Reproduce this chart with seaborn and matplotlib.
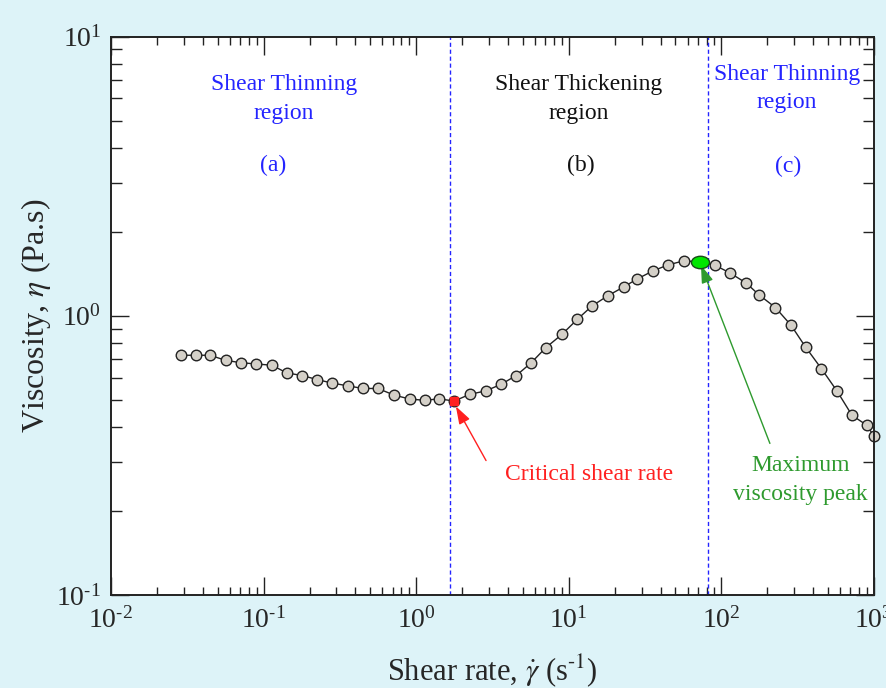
import matplotlib

matplotlib.use("Agg")
import matplotlib.pyplot as plt
import numpy as np
import pandas as pd
import seaborn as sns
from matplotlib.path import Path
from matplotlib.ticker import FuncFormatter

# shear rate (1/s) and viscosity (Pa.s)
shear_rate = [0.0286, 0.0361, 0.0445, 0.0567, 0.0711, 0.0892, 0.1135, 0.142,
              0.179, 0.224, 0.281, 0.357, 0.448, 0.562, 0.715, 0.911, 1.14,
              1.41, 1.78, 2.24, 2.85, 3.60, 4.53, 5.68, 7.06, 9.03, 11.4,
              14.2, 18.1, 22.9, 28.1, 35.6, 44.7, 56.6, 72.7, 90.8, 114,
              145, 177, 226, 286, 356, 452, 572, 718, 900, 1000]
viscosity = [0.722, 0.722, 0.722, 0.692, 0.679, 0.672, 0.665, 0.624, 0.611,
             0.591, 0.574, 0.561, 0.549, 0.549, 0.520, 0.503, 0.498, 0.504,
             0.495, 0.523, 0.538, 0.568, 0.611, 0.679, 0.768, 0.858, 0.972,
             1.084, 1.181, 1.268, 1.355, 1.447, 1.521, 1.572, 1.559, 1.517,
             1.423, 1.311, 1.187, 1.070, 0.925, 0.773, 0.647, 0.538, 0.440,
             0.405, 0.370]

critical_idx = 18
peak_idx = 34
region_bounds = [1.66, 81.7]

BG = "#ddf3f8"
BLUE = "#2424ff"
RED = "#ff2020"
GREEN = "#2e9a2e"

sns.set_theme(style="ticks")
plt.rcParams["font.family"] = ["Liberation Serif", "DejaVu Serif"]
plt.rcParams["mathtext.fontset"] = "stix"
plt.rcParams["axes.unicode_minus"] = False


def decade_fmt(v, pos):
    e = int(round(np.log10(v)))
    sign = r"\text{-}" if e < 0 else ""
    return r"$\mathdefault{10^{%s%d}}$" % (sign, abs(e))


df = pd.DataFrame({"rate": shear_rate, "eta": viscosity})

fig = plt.figure(figsize=(8.87, 6.88), dpi=100, facecolor=BG)
ax = fig.add_axes([0.1251, 0.1352, 0.8602, 0.8117])
ax.set_facecolor("white")

sns.lineplot(data=df, x="rate", y="eta", ax=ax, color="#222222", lw=1.0,
             marker="o", markersize=7.6, markerfacecolor="#d4d0c8",
             markeredgecolor="#222222", markeredgewidth=1.0)
for ln in ax.lines:
    ln.set_clip_on(False)

# critical point (red) and peak (green ellipse)
ax.plot(shear_rate[critical_idx], viscosity[critical_idx], marker="s",
        ms=6, color=RED, mec=RED, ls="none", zorder=4)
ell = Path.unit_circle()
ell = Path(ell.vertices * np.array([1.45, 1.0]), ell.codes)
ax.plot(shear_rate[peak_idx], viscosity[peak_idx], marker=ell, ms=13,
        color="#00e600", mec="#1a4a1a", mew=1.0, ls="none", zorder=4)

for xb in region_bounds:
    ax.axvline(xb, color=BLUE, lw=1.0, ls=(0, (3, 2)), zorder=1)

ax.set_xscale("log")
ax.set_yscale("log")
ax.set_xlim(1e-2, 1e3)
ax.set_ylim(1e-1, 1e1)
ax.xaxis.set_major_formatter(FuncFormatter(decade_fmt))
ax.yaxis.set_major_formatter(FuncFormatter(decade_fmt))

ax.tick_params(which="both", direction="in", top=True, right=True,
               width=1.0, color="#222222", labelsize=20)
ax.tick_params(which="major", length=13)
ax.tick_params(axis="x", which="major", pad=9)
ax.tick_params(axis="y", which="major", pad=7)
ax.tick_params(which="minor", length=6)
ax.tick_params(axis="y", which="minor", length=8)
for sp in ax.spines.values():
    sp.set_linewidth(1.4)
    sp.set_color("#222222")

ax.set_xlabel(r"Shear rate, $\dot{\gamma}$ (s$^{\text{-}1}$)", fontsize=22,
              labelpad=13)
ax.set_ylabel(r"Viscosity, $\eta$ (Pa.s)", fontsize=23, labelpad=2)

fs = 17
ax.text(0.227, 0.888, "Shear Thinning\nregion", color=BLUE, fontsize=fs,
        ha="center", va="center", transform=ax.transAxes, linespacing=1.45)
ax.text(0.213, 0.77, "(a)", color=BLUE, fontsize=fs, ha="center", va="center",
        transform=ax.transAxes)
ax.text(0.613, 0.888, "Shear Thickening\nregion", color="#111111", fontsize=fs,
        ha="center", va="center", transform=ax.transAxes, linespacing=1.45)
ax.text(0.616, 0.77, "(b)", color="#111111", fontsize=fs, ha="center",
        va="center", transform=ax.transAxes)
ax.text(0.886, 0.907, "Shear Thinning\nregion", color=BLUE, fontsize=fs,
        ha="center", va="center", transform=ax.transAxes, linespacing=1.45)
ax.text(0.888, 0.768, "(c)", color=BLUE, fontsize=fs, ha="center",
        va="center", transform=ax.transAxes)
ax.text(0.626, 0.215, "Critical shear rate", color=RED, fontsize=fs,
        ha="center", va="center", transform=ax.transAxes)
ax.text(0.904, 0.206, "Maximum\nviscosity peak", color=GREEN, fontsize=fs,
        ha="center", va="center", transform=ax.transAxes, linespacing=1.45)

ax.annotate("", xy=(1.82, 0.474), xytext=(2.87, 0.303),
            arrowprops=dict(arrowstyle="-|>,head_length=0.9,head_width=0.3",
                            color=RED, lw=1.0, shrinkA=0, shrinkB=0))
ax.annotate("", xy=(73.5, 1.517), xytext=(208, 0.349),
            arrowprops=dict(arrowstyle="-|>,head_length=0.9,head_width=0.3",
                            color=GREEN, lw=1.0, shrinkA=0, shrinkB=0))

fig.savefig("out.png", dpi=100, facecolor=BG)
